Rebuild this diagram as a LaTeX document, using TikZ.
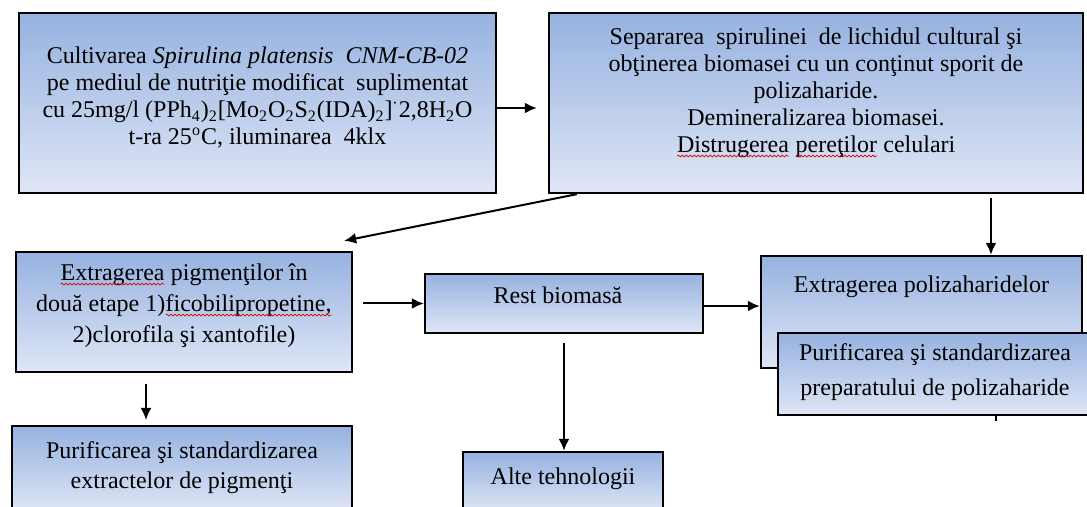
\documentclass[tikz,border=0pt]{standalone}
\usepackage{fontspec}
\setmainfont{Liberation Serif}
\usepackage{tikz}
\usetikzlibrary{arrows.meta,positioning,decorations.pathmorphing}

\definecolor{boxtop}{RGB}{150,178,224}
\definecolor{boxbot}{RGB}{223,230,246}

% red spell-check wave under a word
\newcommand{\spellerr}[1]{\tikz[baseline=(w.base)]{\node[inner sep=0pt,outer sep=0pt,draw=none,fill=none] (w) {#1};
  \draw[red!85!black,line width=0.35pt,decorate,decoration={snake,amplitude=0.45pt,segment length=2pt}]
    ([yshift=-2pt]w.base west) -- ([yshift=-2pt]w.base east);}}

\begin{document}
\begin{tikzpicture}[x=0.5pt,y=-0.5pt,
  stage/.style={rectangle,draw=black,line width=1.2pt,top color=boxtop,bottom color=boxbot,inner sep=0pt},
  txt/.style={align=center,inner sep=0pt,outer sep=0pt},
  flow/.style={line width=1pt,-{Latex[length=6pt,width=5.5pt]}},
  thinflow/.style={line width=0.6pt,-{Latex[length=6pt,width=5.5pt]}}]
\useasboundingbox (0,0) rectangle (1087,507);
\clip (0,0) rectangle (1087,507);

% Top row
\node[stage,minimum width=238.5pt,minimum height=90pt] (cult) at (257.5,103) {};
\node[stage,minimum width=267pt,minimum height=90pt] (sep) at (816,103) {};

% Middle row
\node[stage,minimum width=168pt,minimum height=60pt] (pig) at (184,312) {};
\node[stage,minimum width=139pt,minimum height=29.5pt] (rest) at (564,303.5) {};
\node[stage,minimum width=160.5pt,minimum height=56pt] (polyx) at (921.5,312) {};

% arrow hidden behind the purification box
\coordinate (tick) at (996,421);
\draw[line width=1pt] ([xshift=37.25pt]polyx.south) -- (tick);
\node[stage,line width=0.6pt,minimum width=157pt,minimum height=41pt] (polyp) at (935,374) {};

% Bottom row
\node[stage,minimum width=170pt,minimum height=43pt] (purpig) at (182,469) {};
\node[stage,minimum width=100pt,minimum height=30pt] (alte) at (563,482) {};

% Texts
\node[txt,font=\fontsize{12}{13.5}\selectfont,below=17.5pt of cult.north] (cultT)
  {Cultivarea \textit{Spirulina platensis}\ \ \textit{CNM-CB-02}\\
   pe mediul de nutriţie modificat\ \ suplimentat\\
   cu 25mg/l (PPh\textsubscript{4})\textsubscript{2}[Mo\textsubscript{2}O\textsubscript{2}S\textsubscript{2}(IDA)\textsubscript{2}]\textsuperscript{·}2,8H\textsubscript{2}O\\
   t-ra 25\textsuperscript{o}C, iluminarea\ \ 4klx};
\node[txt,font=\fontsize{12}{13.5}\selectfont,below=7.8pt of sep.north] (sepT)
  {Separarea\ \ spirulinei\ \ de lichidul cultural şi\\
   obţinerea biomasei cu un conţinut sporit de\\
   polizaharide.\\
   Demineralizarea biomasei.\\
   \spellerr{Distrugerea} \spellerr{pereţilor} celulari};
\node[txt,font=\fontsize{12}{15.5}\selectfont,below=6.3pt of pig.north] (pigT)
  {\spellerr{Extragerea} pigmenţilor în\\
   două etape 1)\spellerr{ficobilipropetine,}\\
   2)clorofila şi xantofile)};
\node[txt,font=\fontsize{12}{14}\selectfont,below=7pt of rest.north,xshift=-3pt] (restT) {Rest biomasă};
\node[txt,font=\fontsize{12}{14}\selectfont,below=10.5pt of polyx.north] (polyxT) {Extragerea polizaharidelor};
\node[txt,font=\fontsize{12}{17.5}\selectfont,below=5.5pt of polyp.north] (polypT)
  {Purificarea şi standardizarea\\ preparatului de polizaharide};
\node[txt,font=\fontsize{12}{15}\selectfont,below=8.2pt of purpig.north] (purpigT)
  {Purificarea şi standardizarea\\ extractelor de pigmenţi};
\node[txt,font=\fontsize{12}{14}\selectfont,below=8.5pt of alte.north] (alteT) {Alte tehnologii};

% Arrows
\coordinate (cultout) at ([yshift=-2.5pt]cult.east);
\draw[flow] (cultout) -- ([xshift=-5.5pt]cultout -| sep.west);
\coordinate (pigin) at ([shift={(-9,-10)}]pig.north east);
\draw[flow] ([xshift=14.5pt]sep.south west) -- (pigin);
\coordinate (sepdrop) at ([xshift=34.75pt]polyx.north);
\draw[flow] ([yshift=-2pt]sepdrop |- sep.south) -- (sepdrop);
\coordinate (pigout) at ([xshift=5pt]pig.east);
\draw[flow] (pigout |- rest.west) -- (rest.west);
\coordinate (restout) at ([yshift=-1.25pt]rest.east);
\draw[flow] (restout) -- (restout -| polyx.west);
\coordinate (restdrop) at ([yshift=-4.5pt]rest.south);
\draw[flow] (restdrop) -- (restdrop |- alte.north);
\coordinate (pigdrop) at ([xshift=-19pt,yshift=-5.5pt]pig.south);
\draw[thinflow,shorten >=2.5pt] (pigdrop) -- (pigdrop |- purpig.north);
\end{tikzpicture}
\end{document}
